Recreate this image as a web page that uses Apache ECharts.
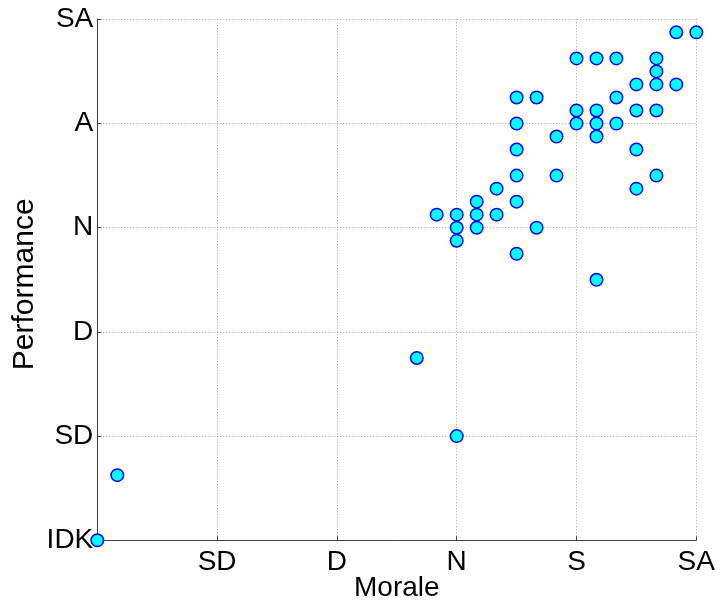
<!DOCTYPE html>
<html>
<head>
<meta charset="utf-8">
<script src="https://cdn.jsdelivr.net/npm/echarts@6/dist/echarts.min.js"></script>
<style>html,body{margin:0;padding:0;background:#fff;}#c{width:720px;height:605px;}</style>
</head>
<body>
<div id="c"></div>
<script>
// Likert levels: 0=IDK, 1=SD, 2=D, 3=N, 4=S/A, 5=SA
var xTickLabels = ['', 'SD', 'D', 'N', 'S', 'SA'];
var yTickLabels = ['IDK', 'SD', 'D', 'N', 'A', 'SA'];
var xName = 'Morale';
var yName = 'Performance';

// Morale (x) values of each respondent group
var morale = [
  4.833, 5, 4, 4.167, 4.333, 4.667, 4.667, 4.5, 4.667, 4.833,
  3.5, 3.667, 4.333, 4, 4.167, 4.5, 4.667, 3.5, 4, 4.167,
  4.333, 3.833, 4.167, 3.5, 4.5, 3.5, 3.833, 4.667, 3.333, 4.5,
  3.167, 3.5, 2.833, 3, 3.167, 3.333, 3, 3.167, 3.667, 3,
  3.5, 4.167, 2.667, 3, 0.167, 0
];
// Performance (y) values
var performance = [
  4.875, 4.875, 4.625, 4.625, 4.625, 4.625, 4.5, 4.375, 4.375, 4.375,
  4.25, 4.25, 4.25, 4.125, 4.125, 4.125, 4.125, 4, 4, 4,
  4, 3.875, 3.875, 3.75, 3.75, 3.5, 3.5, 3.5, 3.375, 3.375,
  3.25, 3.25, 3.125, 3.125, 3.125, 3.125, 3, 3, 3, 2.875,
  2.75, 2.5, 1.75, 1, 0.625, 0
];

var pts = morale.map(function (x, i) { return [x, performance[i]]; });
var FONT = '"Liberation Sans", Arial, sans-serif';

var chart = echarts.init(document.getElementById('c'), null, {renderer: 'canvas'});
chart.setOption({
  animation: false,
  backgroundColor: '#ffffff',
  grid: {left: 97.3, right: 23.7, top: 19.3, bottom: 64.7, containLabel: false, outerBoundsMode: 'none'},
  xAxis: {
    type: 'value', min: 0, max: 5, interval: 1,
    name: xName, nameLocation: 'middle', nameGap: 34, nameMoveOverlap: false,
    nameTextStyle: {fontFamily: FONT, fontSize: 28, color: '#000'},
    axisLine: {show: true, onZero: false, lineStyle: {color: '#404040', width: 1}},
    axisTick: {show: true, inside: true, length: 4, lineStyle: {color: '#404040'}},
    axisLabel: {margin: 8, fontFamily: FONT, fontSize: 28, color: '#000',
      formatter: function (v) { return xTickLabels[Math.round(v)] || ''; }},
    splitLine: {show: true, lineStyle: {color: '#a0a0a0', type: [1, 2], width: 1}}
  },
  yAxis: {
    type: 'value', min: 0, max: 5, interval: 1,
    name: yName, nameLocation: 'middle', nameGap: 58, nameMoveOverlap: false,
    nameTextStyle: {fontFamily: FONT, fontSize: 30, color: '#000', padding: [0, 9, 0, 0]},
    axisLine: {show: true, onZero: false, lineStyle: {color: '#404040', width: 1}},
    axisTick: {show: true, inside: true, length: 4, lineStyle: {color: '#404040'}},
    axisLabel: {margin: 4, fontFamily: FONT, fontSize: 28, color: '#000',
      formatter: function (v) { return yTickLabels[Math.round(v)] || ''; }},
    splitLine: {show: true, lineStyle: {color: '#a0a0a0', type: [1, 2], width: 1}}
  },
  series: [{
    type: 'scatter',
    data: pts,
    clip: false,
    symbol: 'circle',
    symbolSize: 12.5,
    itemStyle: {color: '#00ffff', borderColor: '#0000ff', borderWidth: 1.5, opacity: 1}
  }]
});
</script>
</body>
</html>
